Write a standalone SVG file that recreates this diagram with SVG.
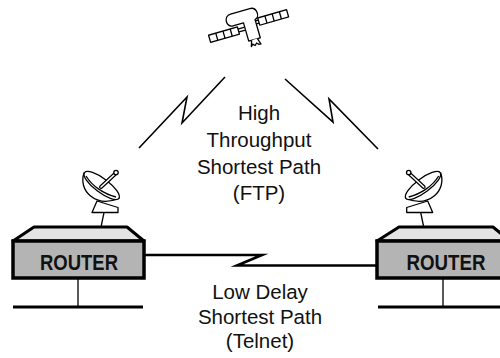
<svg xmlns="http://www.w3.org/2000/svg" xmlns:xlink="http://www.w3.org/1999/xlink" width="500" height="358" viewBox="0 0 500 358">
  <style>
    .label { font-family: "Liberation Sans", Arial, sans-serif; font-size: 20.5px; fill: #111; text-anchor: middle; }
    .rname { font-family: "Liberation Sans", Arial, sans-serif; font-size: 22px; font-weight: bold; fill: #111; text-anchor: middle; }
    .top { fill: #e4e4e4; stroke: #000; stroke-width: 3; stroke-linejoin: round; }
    .front { fill: #b4b4b4; stroke: #000; stroke-width: 3.5; }
    .thin { fill: none; stroke: #000; stroke-width: 1.3; }
    .bus { fill: none; stroke: #000; stroke-width: 3; }
    .link { fill: none; stroke: #000; stroke-width: 1.6; stroke-linejoin: miter; stroke-miterlimit: 20; }
    .wire { fill: none; stroke: #000; stroke-width: 2.6; stroke-linejoin: miter; stroke-miterlimit: 20; }
    .outline { fill: #fff; stroke: #000; stroke-width: 1.3; stroke-linejoin: round; }
  </style>
  <defs>
    <!-- dish antenna, drawn for the left router; mirrored for the right one -->
    <g id="dish">
      <polygon class="outline" points="92,212.5 97,201 118,207.5 118,212.5"/>
      <line class="thin" x1="104" y1="212.5" x2="101" y2="227"/>
      <path class="outline" d="M84,173 C78,190 95,208 119,198.5 Z"/>
      <ellipse class="outline" cx="101.7" cy="185.5" rx="21.5" ry="7" transform="rotate(37 101.7 185.5)"/>
      <path class="thin" d="M86,176 C92,186 104,194 116,197"/>
      <line x1="101" y1="187" x2="115" y2="174" stroke="#000" stroke-width="4" stroke-linecap="round"/>
      <line x1="101" y1="187" x2="115" y2="174" stroke="#fff" stroke-width="1.6" stroke-linecap="round"/>
      <circle class="outline" cx="116" cy="172.5" r="2.2"/>
    </g>
  </defs>

  <!-- satellite -->
  <g id="satellite" transform="translate(249 27.5) rotate(-16)">
    <rect class="outline" x="-41" y="-3.75" width="30" height="7.5"/>
    <path class="thin" d="M-33.5,-3.75 V3.75 M-26,-3.75 V3.75 M-18.5,-3.75 V3.75"/>
    <rect class="outline" x="11" y="-6.75" width="30" height="7.5"/>
    <path class="thin" d="M18.5,-6.75 V0.75 M26,-6.75 V0.75 M33.5,-6.75 V0.75"/>
    <path class="thin" d="M-11,-1.5 H-4 M-11,1.5 H-4 M8,-4.5 H11 M8,-1.5 H11"/>
    <path class="outline" d="M-4,-6 L-15,-6 C-22,-6 -22,-18 -14,-18 L6,-18 C13,-18 14,-7 8,-6 L8,13 L-4,13 Z"/>
    <path class="outline" d="M-1,13 L-3,19 L-1,17 L1,19 L3,17 L5,19 L7,19 L5,13"/>
  </g>

  <g id="connectors">
    <!-- satellite links (lightning-bolt style) -->
    <polyline id="link-left" class="link" points="139,148 187,97 182,123 225,77"/>
    <polyline id="link-right" class="link" points="285,79 333,122 329,99 378,149"/>
    <!-- terrestrial link between the routers -->
    <polyline id="wire-routers" class="wire" points="144,255 262,255 237,265.5 377,265.5"/>
    <!-- LAN drops -->
    <line class="thin" x1="78" y1="278" x2="78" y2="307"/>
    <line class="bus" x1="13" y1="307" x2="143" y2="307"/>
    <line class="thin" x1="443" y1="278" x2="443" y2="307"/>
    <line class="bus" x1="378" y1="307" x2="500" y2="307"/>
  </g>

  <!-- left router -->
  <g id="router-left">
    <use xlink:href="#dish"/>
    <polygon class="top" points="13,241 34,227 127,227 144,241"/>
    <rect class="front" x="13" y="241" width="131" height="37"/>
    <text class="rname" x="79" y="270" textLength="78" lengthAdjust="spacingAndGlyphs">ROUTER</text>
  </g>

  <!-- right router -->
  <g id="router-right">
    <use xlink:href="#dish" transform="translate(524.7 0) scale(-1 1)"/>
    <polygon class="top" points="377,241 399,227 493,227 510,241"/>
    <rect class="front" x="377" y="241" width="133" height="37"/>
    <text class="rname" x="446" y="270" textLength="79" lengthAdjust="spacingAndGlyphs">ROUTER</text>
  </g>

  <!-- path labels -->
  <g id="label-ftp">
    <text class="label" x="259" y="120">High</text>
    <text class="label" x="259" y="147">Throughput</text>
    <text class="label" x="259" y="174">Shortest Path</text>
    <text class="label" x="259" y="200">(FTP)</text>
  </g>
  <g id="label-telnet">
    <text class="label" x="260" y="299">Low Delay</text>
    <text class="label" x="260" y="324">Shortest Path</text>
    <text class="label" x="260" y="348">(Telnet)</text>
  </g>
</svg>
